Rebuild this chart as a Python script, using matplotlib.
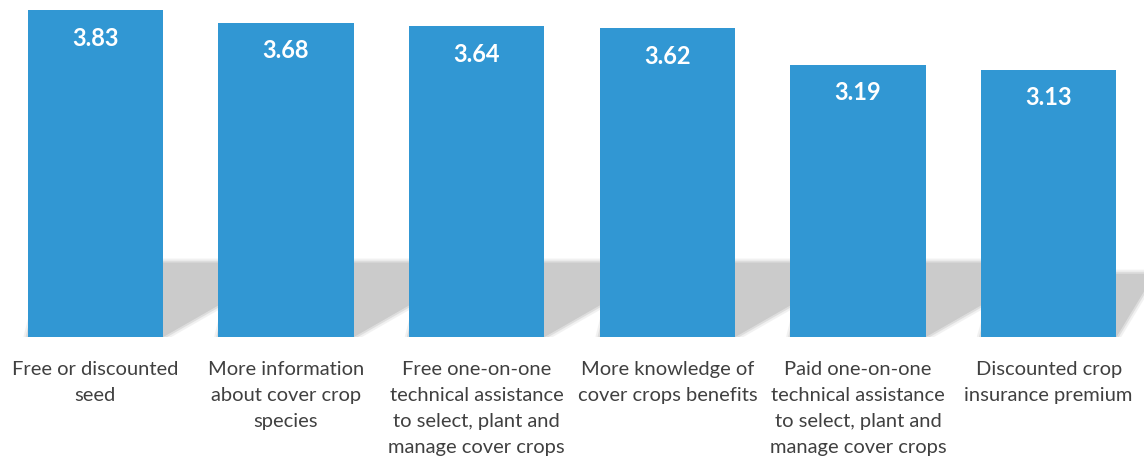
import matplotlib.pyplot as plt
from matplotlib.patches import Polygon

# data
categories = [
    "Free or discounted\nseed",
    "More information\nabout cover crop\nspecies",
    "Free one-on-one\ntechnical assistance\nto select, plant and\nmanage cover crops",
    "More knowledge of\ncover crops benefits",
    "Paid one-on-one\ntechnical assistance\nto select, plant and\nmanage cover crops",
    "Discounted crop\ninsurance premium",
]
scores = [3.83, 3.68, 3.64, 3.62, 3.19, 3.13]

plt.rcParams['font.family'] = ['Lato', 'DejaVu Sans']

fig = plt.figure(figsize=(11.44, 4.62), dpi=100)
ax = fig.add_axes([0.0, 125 / 462, 1.0, 333 / 462])

x = list(range(len(scores)))
width = 0.71
bar_color = '#3197D3'

# floor shadow behind the bars (soft edge from a few transparent layers)
shadow_h = 0.87
shadow_dx = 0.68
for i in x:
    x0, x1 = i - width / 2, i + width / 2
    dx = shadow_dx if i < len(x) - 1 else 0.2
    for lw, a in [(6, 0.25), (3, 0.5), (0, 1.0)]:
        poly = Polygon(
            [(x0, 0), (x1, 0), (x1 + dx, shadow_h * 0.85 if i == len(x) - 1 else shadow_h),
             (x0 + 0.1, shadow_h * 0.85 if i == len(x) - 1 else shadow_h)],
            closed=True, facecolor='#cbcbcb', edgecolor='#cbcbcb',
            linewidth=lw, alpha=a, zorder=1, joinstyle='round',
        )
        ax.add_patch(poly)

ax.bar(x, scores, width=width, color=bar_color, zorder=3)

for i, v in zip(x, scores):
    ax.text(i, v - 0.33, f"{v:.2f}", ha='center', va='center',
            color='white', fontsize=17, fontweight='bold', zorder=4)

ax.set_xlim(-0.5, 5.5)
ax.set_ylim(0, 3.9)
ax.set_xticks(x)
ax.set_xticklabels(categories, fontsize=14.5, color='#404040', linespacing=1.65)
ax.tick_params(axis='x', length=0, pad=17)
ax.set_yticks([])
for s in ax.spines.values():
    s.set_visible(False)

fig.savefig('out.png', dpi=100)
